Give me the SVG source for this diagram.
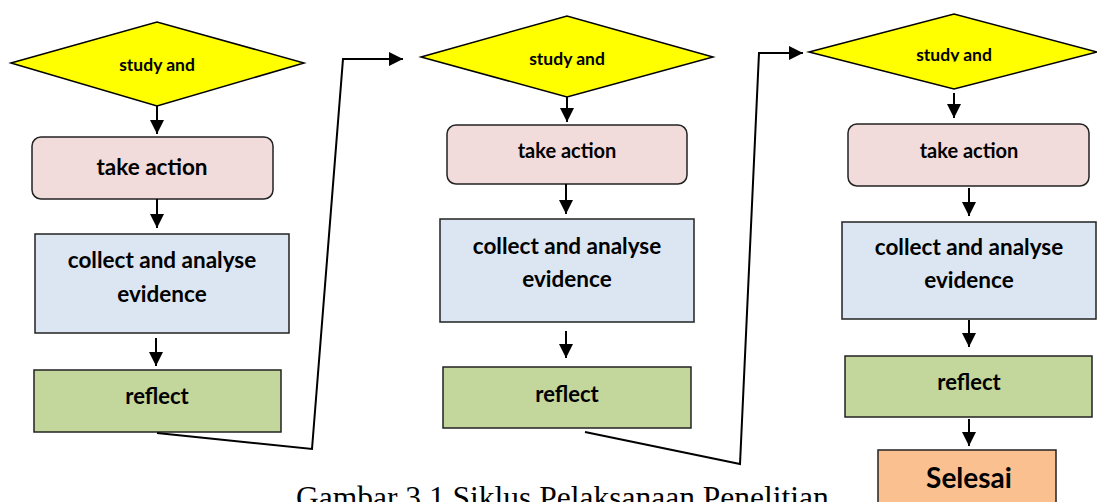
<svg xmlns="http://www.w3.org/2000/svg" width="1097" height="502" viewBox="0 0 1097 502">
  <style>
    .lbl { font-family: Lato, "Liberation Sans", sans-serif; font-weight: bold; fill: #000; text-anchor: middle; }
    .dia { fill: #ffff00; stroke: #000; stroke-width: 1.5; }
    .act { fill: #f2dbdb; stroke: #222; stroke-width: 1.5; }
    .col { fill: #dce6f2; stroke: #222; stroke-width: 1.5; }
    .ref { fill: #c3d69b; stroke: #222; stroke-width: 1.5; }
    .end { fill: #fac090; stroke: #222; stroke-width: 1.5; }
    .conn line, .conn polyline { stroke: #000; stroke-width: 2; fill: none; }
    .cap { font-family: "Liberation Serif", serif; font-size: 31.5px; fill: #000; }
  </style>
  <defs>
    <marker id="arrow" markerUnits="userSpaceOnUse" markerWidth="16" markerHeight="16" refX="14" refY="7" orient="auto">
      <path d="M0,0 L14,7 L0,14 Z" fill="#000"/>
    </marker>
    <clipPath id="clip3">
      <rect x="800" y="0" width="297" height="61.5"/>
    </clipPath>
  </defs>

  <!-- cycle 1 -->
  <g id="plan1">
    <polygon class="dia" points="11,63 157,22 304,63 157,106"/>
    <text class="lbl" x="157" y="71" font-size="17.5">study and</text>
  </g>
  <g id="action1">
    <rect class="act" x="32" y="137" width="241" height="62" rx="9"/>
    <text class="lbl" x="152" y="175" font-size="22.5">take action</text>
  </g>
  <g id="collect1">
    <rect class="col" x="35" y="234" width="254" height="99"/>
    <text class="lbl" x="162" y="268" font-size="22.5">collect and analyse</text>
    <text class="lbl" x="162" y="302" font-size="22.5">evidence</text>
  </g>
  <g id="reflect1">
    <rect class="ref" x="34" y="370" width="247" height="62"/>
    <text class="lbl" x="157" y="404" font-size="22">reflect</text>
  </g>

  <!-- cycle 2 -->
  <g id="plan2">
    <polygon class="dia" points="421,57 567,16 713,57 567,97"/>
    <text class="lbl" x="567" y="65" font-size="17.5">study and</text>
  </g>
  <g id="action2">
    <rect class="act" x="447" y="125" width="240" height="59" rx="9"/>
    <text class="lbl" x="567" y="158" font-size="20">take action</text>
  </g>
  <g id="collect2">
    <rect class="col" x="440" y="219" width="254" height="103"/>
    <text class="lbl" x="567" y="254" font-size="22.5">collect and analyse</text>
    <text class="lbl" x="567" y="287" font-size="22.5">evidence</text>
  </g>
  <g id="reflect2">
    <rect class="ref" x="443" y="367" width="248" height="61"/>
    <text class="lbl" x="567" y="402" font-size="22">reflect</text>
  </g>

  <!-- cycle 3 -->
  <g id="plan3">
    <polygon class="dia" points="809,52 954,14 1097,52 954,89"/>
    <text class="lbl" x="954" y="61" font-size="17.5" clip-path="url(#clip3)">study and</text>
  </g>
  <g id="action3">
    <rect class="act" x="848" y="124" width="241" height="62" rx="9"/>
    <text class="lbl" x="969" y="158" font-size="20">take action</text>
  </g>
  <g id="collect3">
    <rect class="col" x="842" y="222" width="254" height="97"/>
    <text class="lbl" x="969" y="255" font-size="22.5">collect and analyse</text>
    <text class="lbl" x="969" y="288" font-size="22.5">evidence</text>
  </g>
  <g id="reflect3">
    <rect class="ref" x="845" y="356" width="247" height="61"/>
    <text class="lbl" x="969" y="390" font-size="22">reflect</text>
  </g>
  <g id="finish">
    <rect class="end" x="878" y="450" width="178" height="60"/>
    <text class="lbl" x="969" y="488" font-size="28">Selesai</text>
  </g>

  <!-- connectors -->
  <g id="connectors" class="conn">
    <line x1="157" y1="106" x2="157" y2="134" marker-end="url(#arrow)"/>
    <line x1="157" y1="199" x2="157" y2="228" marker-end="url(#arrow)"/>
    <line x1="156" y1="338" x2="156" y2="366" marker-end="url(#arrow)"/>
    <polyline points="157,433 312,449 343,59 403,59" marker-end="url(#arrow)"/>

    <line x1="567" y1="97" x2="567" y2="122" marker-end="url(#arrow)"/>
    <line x1="566" y1="184" x2="566" y2="214" marker-end="url(#arrow)"/>
    <line x1="566" y1="331" x2="566" y2="358" marker-end="url(#arrow)"/>
    <polyline points="585,432 740,464 759,53 803,53" marker-end="url(#arrow)"/>

    <line x1="954" y1="93" x2="954" y2="118" marker-end="url(#arrow)"/>
    <line x1="969" y1="188" x2="969" y2="216" marker-end="url(#arrow)"/>
    <line x1="969" y1="320" x2="969" y2="347" marker-end="url(#arrow)"/>
    <line x1="969" y1="419" x2="969" y2="446" marker-end="url(#arrow)"/>
  </g>

  <text class="cap" x="296" y="508">Gambar 3.1 Siklus Pelaksanaan Penelitian</text>
</svg>
